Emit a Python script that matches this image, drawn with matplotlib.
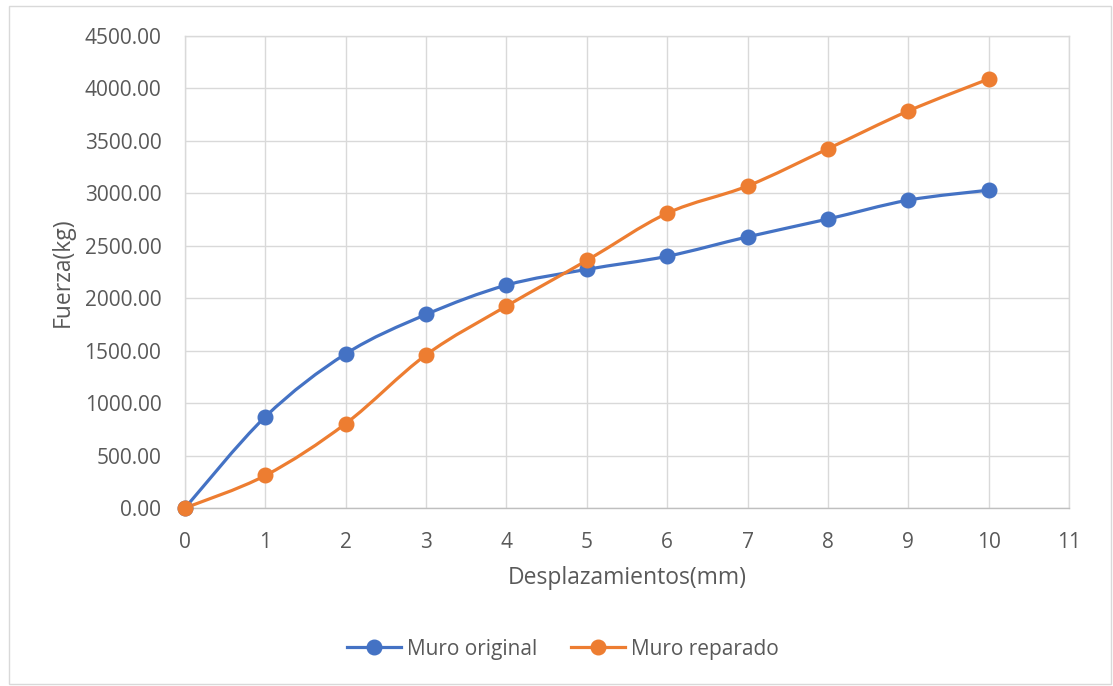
import numpy as np
import matplotlib.pyplot as plt
from matplotlib.path import Path
from matplotlib.patches import PathPatch, Rectangle

plt.rcParams['font.family'] = ['Open Sans', 'DejaVu Sans']

desp = [0, 1, 2, 3, 4, 5, 6, 7, 8, 9, 10]
original = [0, 870, 1470, 1845, 2125, 2275, 2400, 2585, 2755, 2935, 3030]
reparado = [0, 310, 805, 1460, 1925, 2360, 2810, 3070, 3425, 3785, 4090]

blue = '#4472c4'
orange = '#ed7d31'
grey = '#595959'


def smooth_path(x, y):
    # excel-style smoothed line: cubic bezier through the points
    p = np.column_stack([x, y]).astype(float)
    n = len(p)
    verts = [p[0]]
    codes = [Path.MOVETO]
    for i in range(n - 1):
        p0 = p[i - 1] if i > 0 else p[i]
        p3 = p[i + 2] if i + 2 < n else p[i + 1]
        c1 = p[i] + (p[i + 1] - p0) / 6
        c2 = p[i + 1] - (p3 - p[i]) / 6
        verts += [c1, c2, p[i + 1]]
        codes += [Path.CURVE4] * 3
    return Path(verts, codes)


fig = plt.figure(figsize=(11.13, 6.86), dpi=100)
fig.patches.append(Rectangle((9 / 1113, 2 / 686), 1102 / 1113, 678 / 686,
                             transform=fig.transFigure, fill=False,
                             edgecolor='#d9d9d9', linewidth=1.0))
ax = fig.add_axes([185 / 1113, 1 - 508 / 686, 884 / 1113, 472 / 686])

for ys, c, lab in [(original, blue, 'Muro original'), (reparado, orange, 'Muro reparado')]:
    ax.add_patch(PathPatch(smooth_path(desp, ys), fill=False, edgecolor=c,
                           linewidth=2.3, zorder=3))
    ax.plot(desp, ys, linestyle='none', marker='o', markersize=10.5, color=c,
            zorder=4, clip_on=False)
    ax.plot([], [], color=c, linewidth=2.3, marker='o', markersize=10.5, label=lab)

ax.set_xlim(0, 11)
ax.set_ylim(0, 4500)
ax.set_xticks(range(0, 12))
ax.set_yticks(np.arange(0, 4501, 500))
ax.set_yticklabels([f'{v:.2f}' for v in np.arange(0, 4501, 500)])
ax.grid(True, color='#d9d9d9', linewidth=1.0)
ax.set_axisbelow(True)
for s in ax.spines.values():
    s.set_color('#d9d9d9')
    s.set_linewidth(1.0)
ax.spines['bottom'].set_color('#bfbfbf')
ax.tick_params(length=0, labelsize=15, labelcolor=grey)
ax.tick_params(axis='x', pad=17)
ax.tick_params(axis='y', pad=17)
ax.set_xlabel('Desplazamientos(mm)', fontsize=16.5, color=grey, va='center')
ax.set_ylabel('Fuerza(kg)', fontsize=16.5, color=grey, va='center')
ax.xaxis.set_label_coords(0.5, (508 - 578) / 472)
ax.yaxis.set_label_coords((63 - 185) / 884, 0.5)

fig.legend(loc='center', bbox_to_anchor=(563 / 1113, 1 - 649 / 686), ncol=2,
           frameon=False, fontsize=15, labelcolor=grey, handlelength=2.6,
           handletextpad=0.3, columnspacing=1.6)

fig.savefig('out.png', dpi=100)
